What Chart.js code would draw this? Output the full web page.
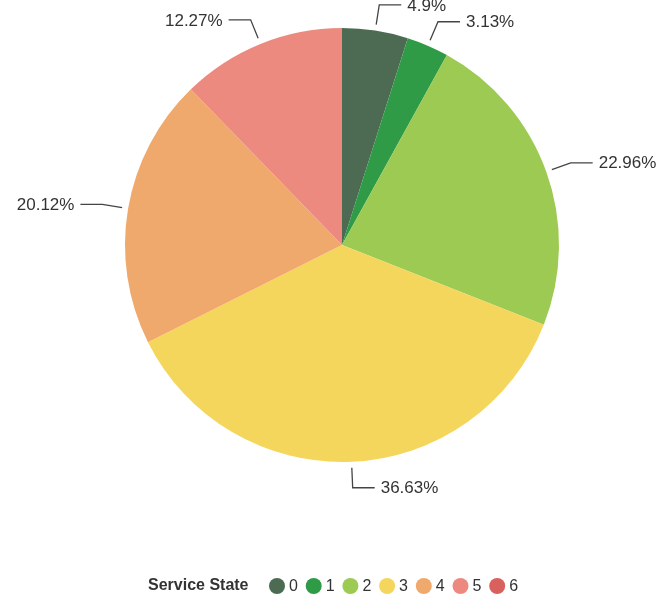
<!DOCTYPE html>
<html>
<head>
<meta charset="utf-8">
<script src="https://cdn.jsdelivr.net/npm/chart.js@4/dist/chart.umd.min.js"></script>
<style>
  html, body { margin: 0; padding: 0; background: #fff; }
  #wrap { width: 660px; height: 601px; position: relative; }
</style>
</head>
<body>
<div id="wrap"><canvas id="chart"></canvas></div>
<script>
// service state share, in percent
var states = ['0', '1', '2', '3', '4', '5', '6'];
var shares = [4.9, 3.13, 22.96, 36.63, 20.12, 12.27, 0];
var legendTitle = 'Service State';

var stateColors = ['#4c6b52', '#2f9b47', '#9dca52', '#f5d65c', '#f0a96d', '#ec8a7f', '#d9615d'];

// percent labels with a bent leader line outside each slice
var sliceLabels = {
  id: 'sliceLabels',
  afterDatasetsDraw: function (chart) {
    var ctx = chart.ctx;
    var arcs = chart.getDatasetMeta(0).data;
    ctx.save();
    ctx.font = '17px "Liberation Sans", Arial, sans-serif';
    ctx.textBaseline = 'middle';
    arcs.forEach(function (arc, i) {
      var v = shares[i];
      if (!v) return;
      var mid = (arc.startAngle + arc.endAngle) / 2;
      var r = arc.outerRadius;
      var cos = Math.cos(mid), sin = Math.sin(mid);
      var x1 = arc.x + cos * (r + 6), y1 = arc.y + sin * (r + 6);
      var x2 = arc.x + cos * (r + 26), y2 = arc.y + sin * (r + 26);
      var dir = cos >= -0.01 ? 1 : -1;
      var x3 = x2 + dir * 22;
      ctx.strokeStyle = '#444';
      ctx.lineWidth = 1.3;
      ctx.beginPath();
      ctx.moveTo(x1, y1);
      ctx.lineTo(x2, y2);
      ctx.lineTo(x3, y2);
      ctx.stroke();
      ctx.fillStyle = '#333';
      ctx.textAlign = dir > 0 ? 'left' : 'right';
      ctx.fillText(v + '%', x3 + dir * 6, y2 + 1);
    });
    ctx.restore();
  }
};

// inline legend: bold title followed by round swatches
var inlineLegend = {
  id: 'inlineLegend',
  afterDraw: function (chart) {
    var ctx = chart.ctx;
    var ds = chart.data.datasets[0];
    var y = 586;
    ctx.save();
    ctx.textBaseline = 'middle';
    ctx.textAlign = 'left';
    ctx.fillStyle = '#333';
    ctx.font = 'bold 16px "Liberation Sans", Arial, sans-serif';
    ctx.fillText(legendTitle, 148, y);
    ctx.font = '16px "Liberation Sans", Arial, sans-serif';
    var x = 277;
    chart.data.labels.forEach(function (lab, i) {
      ctx.beginPath();
      ctx.arc(x, y, 8, 0, Math.PI * 2);
      ctx.fillStyle = ds.backgroundColor[i];
      ctx.fill();
      ctx.fillStyle = '#333';
      ctx.fillText(lab, x + 12, y + 1);
      x += 36.7;
    });
    ctx.restore();
  }
};

new Chart(document.getElementById('chart'), {
  type: 'pie',
  data: {
    labels: states,
    datasets: [{
      data: shares,
      backgroundColor: stateColors,
      borderWidth: 0
    }]
  },
  options: {
    responsive: true,
    maintainAspectRatio: false,
    animation: false,
    layout: { padding: { top: 28, bottom: 139, left: 123, right: 99 } },
    plugins: {
      legend: { display: false },
      tooltip: { enabled: false }
    }
  },
  plugins: [sliceLabels, inlineLegend]
});
</script>
</body>
</html>
